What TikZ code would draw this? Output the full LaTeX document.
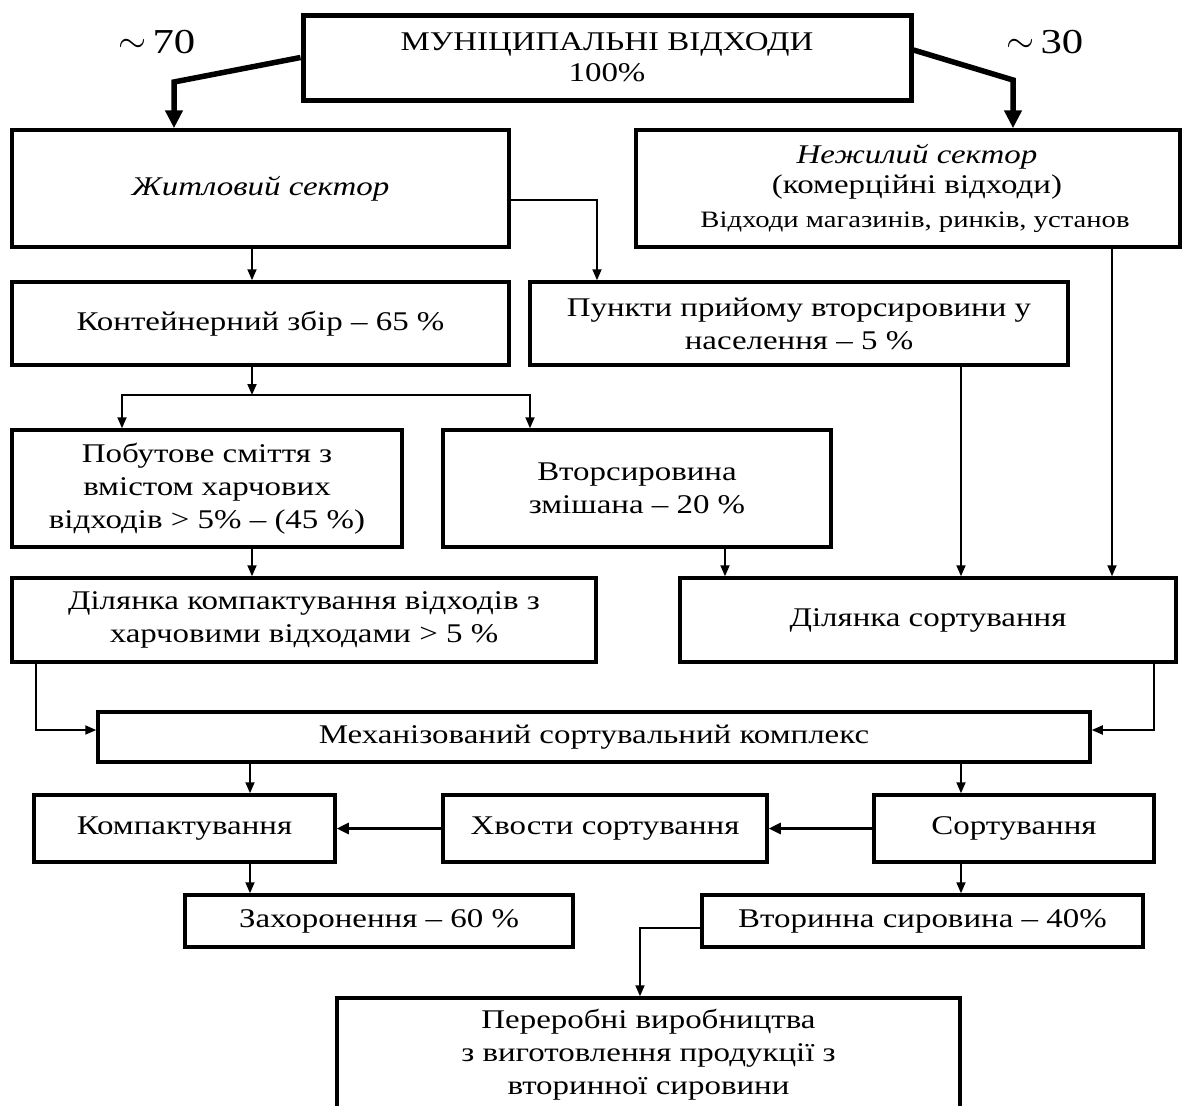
\documentclass[tikz,border=0pt]{standalone}
\usepackage{fontspec}
\setmainfont{Liberation Serif}[FakeStretch=1.22]
\usetikzlibrary{arrows.meta}

\tikzset{
  box/.style={draw, line width=3.5pt, inner sep=0pt, align=center,
    font=\fontsize{27}{33}\selectfont},
  topbox/.style={box, line width=5pt},
  arr/.style={line width=1.8pt, -{Triangle[length=11pt,width=9pt]}},
  bigarr/.style={line width=5.5pt, line join=miter, -{Triangle[length=18pt,width=17pt]}},
  midarr/.style={line width=2.8pt, -{Triangle[length=12pt,width=11pt]}},
  share/.style={font=\fontsize{35}{38}\selectfont}
}
\newcommand{\approxsign}{\raisebox{1pt}{\scalebox{1.45}{$\sim$}}}

\begin{document}
\begin{tikzpicture}[x=1pt,y=-1pt]
\useasboundingbox (0,0) rectangle (1187,1106);
\clip (0,0) rectangle (1187,1106);

% boxes
\node[topbox, minimum width=608, minimum height=85] (top) at (607,57.5)
  {МУНІЦИПАЛЬНІ ВІДХОДИ\\[-2pt]100\%};
\node[box, minimum width=497, minimum height=117] (zhyt) at (260.5,188.5)
  {\itshape Житловий сектор};
\node[box, minimum width=544, minimum height=117] (nezh) at (908,188.5)
  {\hspace*{18pt}\itshape Нежилий сектор\\[-3pt]\hspace*{18pt}(комерційні відходи)\\[1pt]
   {\fontsize{23.5}{28}\selectfont\hspace*{14pt}Відходи магазинів, ринків, установ}};
\node[box, minimum width=497, minimum height=83] (kont) at (260.5,323.5)
  {Контейнерний збір – 65 \%};
\node[box, minimum width=538, minimum height=83] (punkt) at (799,323.5)
  {Пункти прийому вторсировини у\\населення – 5 \%};
\node[box, minimum width=390, minimum height=117] (pobut) at (207,488.5)
  {Побутове сміття з\\вмістом харчових\\відходів > 5\% – (45 \%)};
\node[box, minimum width=388, minimum height=117] (vtors) at (637,488.5)
  {Вторсировина\\змішана – 20 \%};
\node[box, minimum width=584, minimum height=84] (dilk) at (304,620)
  {Ділянка компактування відходів з\\харчовими відходами > 5 \%};
\node[box, minimum width=496, minimum height=84] (dils) at (928,620)
  {Ділянка сортування};
\node[box, minimum width=992, minimum height=50] (mech) at (594,737)
  {Механізований сортувальний комплекс};
\node[box, minimum width=301, minimum height=67] (komp) at (184.5,828.5)
  {Компактування};
\node[box, minimum width=324, minimum height=67] (khv) at (605,828.5)
  {Хвости сортування};
\node[box, minimum width=280, minimum height=67] (sort) at (1014,828.5)
  {Сортування};
\node[box, minimum width=388, minimum height=52] (zakh) at (379,921)
  {Захоронення – 60 \%};
\node[box, minimum width=441, minimum height=52] (vtor) at (922.5,921)
  {Вторинна сировина – 40\%};
\node[box, minimum width=623, minimum height=114] (perer) at (648.5,1055)
  {Переробні виробництва\\з виготовлення продукції з\\вторинної сировини};

% shares
\node[share] (s70) at (157,42) {\approxsign\,70};
\node[share] (s30) at (1045,42) {\approxsign\,30};

% split of the total flow
\coordinate (b70) at (174,82);
\coordinate (b30) at (1013,80);
\draw[bigarr] (top.west) -- (b70) -- (b70 |- zhyt.north);
\draw[bigarr] ([yshift=7.5pt]top.east) -- (b30) -- (b30 |- nezh.north);

% residential sector
\draw[arr] (zhyt.south -| 252,0) -- (kont.north -| 252,0);
\draw[arr] (zhyt.east |- 0,200) -- (597,200) -- (punkt.north -| 597,0);
\coordinate (split) at (252,395);
\draw[arr] (kont.south -| split) -- (split);
\draw[arr] (split) -- (122,395) -- (pobut.north -| 122,0);
\draw[arr] (split) -- (530,395) -- (vtors.north -| 530,0);
\draw[arr] (pobut.south -| 252,0) -- (dilk.north -| 252,0);

% feeds into the sorting area
\draw[arr] (vtors.south -| 725,0) -- (dils.north -| 725,0);
\draw[arr] (punkt.south -| 961,0) -- (dils.north -| 961,0);
\draw[arr] (nezh.south -| 1112,0) -- (dils.north -| 1112,0);

% into the mechanised complex
\draw[arr] (dilk.south -| 36,0) -- (36,730) -- (mech.west |- 0,730);
\draw[arr] (dils.south -| 1154,0) -- (1154,730) -- (mech.east |- 0,730);

% outputs
\draw[arr] (mech.south -| 250,0) -- (komp.north -| 250,0);
\draw[arr] (mech.south -| 961,0) -- (sort.north -| 961,0);
\draw[midarr] (sort.west) -- (khv.east);
\draw[midarr] (khv.west) -- (komp.east);
\draw[arr] (komp.south -| 250,0) -- (zakh.north -| 250,0);
\draw[arr] (sort.south -| 961,0) -- (vtor.north -| 961,0);
\draw[arr] (vtor.west |- 0,928) -- (640,928) -- (perer.north -| 640,0);
\end{tikzpicture}
\end{document}
